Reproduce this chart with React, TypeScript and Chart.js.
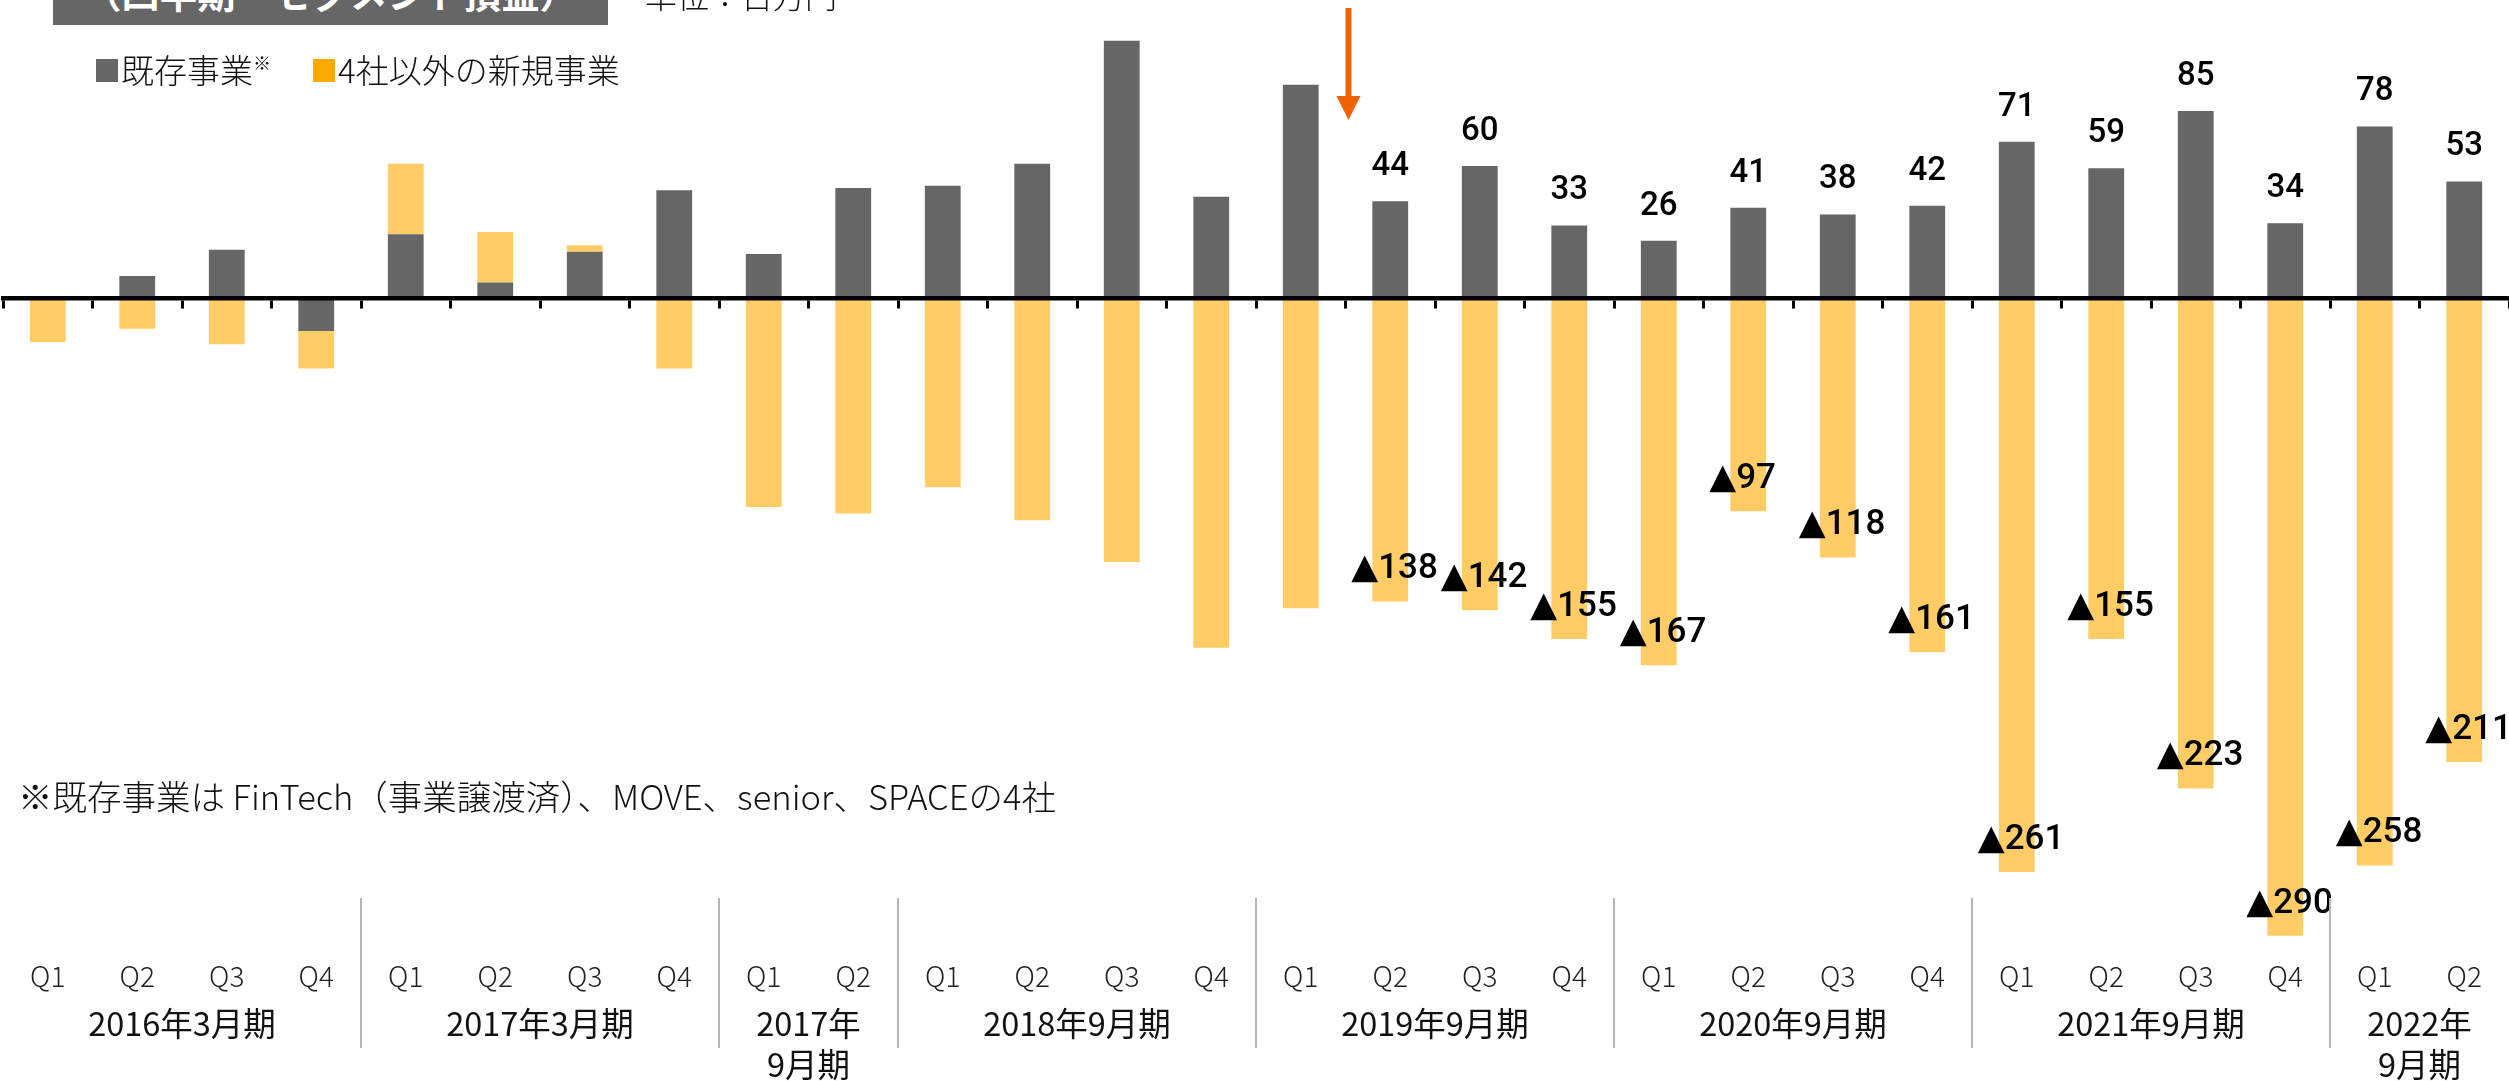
import React, { useEffect, useRef } from 'react';
import { Chart, registerables } from 'chart.js';

Chart.register(...registerables);

// ---- data ----
const quarters = [
  'Q1', 'Q2', 'Q3', 'Q4',
  'Q1', 'Q2', 'Q3', 'Q4',
  'Q1', 'Q2',
  'Q1', 'Q2', 'Q3', 'Q4',
  'Q1', 'Q2', 'Q3', 'Q4',
  'Q1', 'Q2', 'Q3', 'Q4',
  'Q1', 'Q2', 'Q3', 'Q4',
  'Q1', 'Q2',
];
const periodLabels = [
  '2016年3月期', '2017年3月期', '2017年\n9月期', '2018年9月期',
  '2019年9月期', '2020年9月期', '2021年9月期', '2022年\n9月期',
];
const periodSizes = [4, 4, 2, 4, 4, 4, 4, 2];

const existingBiz = [
  0, 10, 22, -15,
  29, 7, 21, 49,
  20, 50,
  51, 61, 117, 46,
  97, 44, 60, 33,
  26, 41, 38, 42,
  71, 59, 85, 34,
  78, 53,
];
const newBiz = [
  -20, -14, -21, -17,
  32, 23, 3, -32,
  -95, -98,
  -86, -101, -120, -159,
  -141, -138, -142, -155,
  -167, -97, -118, -161,
  -261, -155, -223, -290,
  -258, -211,
];
const seriesNames = ['既存事業', '4社以外の新規事業'];
const firstLabeledIndex = 15; // values are printed from 2019年9月期 Q2 onward
const arrowAfterIndex = 14; // arrow between 2019 Q1 and Q2

// ---- styles ----
const GRAY = '#666666';
const ORANGE_BAR = '#FFCC66';
const ORANGE_LEGEND = '#FFAA00';
const ARROW = '#EE6200';
const CJK = '"Noto Sans CJK JP", "Noto Sans", sans-serif';
const NUM = 'Roboto, "DejaVu Sans", sans-serif';

const overlayPlugin = {
  id: 'overlayPlugin',
  afterDraw(chart: any) {
    const ctx: CanvasRenderingContext2D = chart.ctx;
    const xs = chart.scales.x;
    const meta0 = chart.getDatasetMeta(0);
    const meta1 = chart.getDatasetMeta(1);
    ctx.save();

    // value labels
    for (let i = firstLabeledIndex; i < existingBiz.length; i++) {
      const g = meta0.data[i];
      const o = meta1.data[i];
      ctx.fillStyle = '#000';
      ctx.font = `500 33px ${NUM}`;
      ctx.textAlign = 'center';
      ctx.textBaseline = 'alphabetic';
      ctx.fillText(String(existingBiz[i]), g.x, g.y - 26);

      ctx.font = `500 35px ${NUM}`;
      ctx.textAlign = 'left';
      ctx.textBaseline = 'middle';
      ctx.fillText('▲' + Math.abs(newBiz[i]), o.x - 39, o.y - 32);
    }

    // quarter labels
    ctx.fillStyle = '#222';
    ctx.font = `300 28px ${CJK}`;
    ctx.textAlign = 'center';
    ctx.textBaseline = 'middle';
    quarters.forEach((q, i) => {
      ctx.fillText(q, xs.getPixelForValue(i), 976);
    });

    // period labels and separators
    let start = 0;
    periodSizes.forEach((size, gi) => {
      const end = start + size - 1;
      const cx = (xs.getPixelForValue(start) + xs.getPixelForValue(end)) / 2;
      ctx.fillStyle = '#111';
      ctx.font = `400 32.5px ${CJK}`;
      ctx.textAlign = 'center';
      ctx.textBaseline = 'middle';
      periodLabels[gi].split('\n').forEach((line, li) => {
        ctx.fillText(line, cx, 1024 + li * 41);
      });
      if (gi < periodSizes.length - 1) {
        const sx = (xs.getPixelForValue(end) + xs.getPixelForValue(end + 1)) / 2;
        ctx.strokeStyle = '#b5b5b5';
        ctx.lineWidth = 2;
        ctx.beginPath();
        ctx.moveTo(sx, 898);
        ctx.lineTo(sx, 1048);
        ctx.stroke();
      }
      start += size;
    });

    // arrow
    const ax = (xs.getPixelForValue(arrowAfterIndex) + xs.getPixelForValue(arrowAfterIndex + 1)) / 2 + 3;
    ctx.fillStyle = ARROW;
    ctx.fillRect(ax - 3, 8, 6, 90);
    ctx.beginPath();
    ctx.moveTo(ax - 12, 96);
    ctx.lineTo(ax + 12, 96);
    ctx.lineTo(ax, 120);
    ctx.closePath();
    ctx.fill();

    ctx.restore();
  },
};

export default function App() {
  const canvasRef = useRef<HTMLCanvasElement | null>(null);

  useEffect(() => {
    if (!canvasRef.current) return;
    const chart = new Chart(canvasRef.current, {
      type: 'bar',
      data: {
        labels: quarters,
        datasets: [
          {
            label: seriesNames[0],
            data: existingBiz,
            backgroundColor: GRAY,
            barPercentage: 0.4,
            categoryPercentage: 1,
          },
          {
            label: seriesNames[1],
            data: newBiz,
            backgroundColor: ORANGE_BAR,
            barPercentage: 0.4,
            categoryPercentage: 1,
          },
        ],
      },
      options: {
        responsive: false,
        animation: false,
        devicePixelRatio: 1,
        layout: { padding: { left: 3, right: 0, top: 0, bottom: 0 } },
        plugins: { legend: { display: false }, tooltip: { enabled: false } },
        scales: {
          x: {
            stacked: true,
            position: { y: 0 } as any,
            ticks: { display: false },
            grid: {
              display: true,
              drawOnChartArea: false,
              drawTicks: true,
              tickLength: 8,
              color: '#000',
              lineWidth: 3,
              offset: true,
            },
            border: { display: true, color: '#000', width: 4.5, z: 1 },
          },
          y: {
            stacked: true,
            display: false,
            min: -356,
            max: 135.5,
          },
        },
      } as any,
      plugins: [overlayPlugin],
    });
    return () => chart.destroy();
  }, []);

  const legendText: React.CSSProperties = {
    position: 'absolute',
    top: 53,
    fontFamily: CJK,
    fontSize: 33,
    lineHeight: '33px',
    color: '#111',
    fontWeight: 300,
    whiteSpace: 'nowrap',
  };

  return (
    <div
      style={{
        position: 'fixed',
        left: 0,
        top: 0,
        width: 2509,
        height: 1081,
        overflow: 'hidden',
        background: '#fff',
      }}
    >
      <canvas
        ref={canvasRef}
        width={2509}
        height={1081}
        style={{ position: 'absolute', left: 0, top: 0, width: 2509, height: 1081 }}
      />
      {/* title box (cut off at top) */}
      <div
        style={{
          position: 'absolute',
          left: 53,
          top: 0,
          width: 555,
          height: 25,
          background: GRAY,
          overflow: 'hidden',
        }}
      >
        <div
          style={{
            position: 'absolute',
            left: 0,
            width: 555,
            top: -27,
            textAlign: 'center',
            color: '#fff',
            fontFamily: CJK,
            fontWeight: 700,
            fontSize: 38,
            lineHeight: '38px',
            whiteSpace: 'nowrap',
          }}
        >
          （四半期・セグメント損益）
        </div>
      </div>
      <div
        style={{
          position: 'absolute',
          left: 645,
          top: -22,
          fontFamily: CJK,
          fontSize: 32,
          lineHeight: '32px',
          color: '#111',
          fontWeight: 300,
          whiteSpace: 'nowrap',
        }}
      >
        単位：百万円
      </div>
      {/* legend */}
      <div style={{ position: 'absolute', left: 96, top: 59, width: 22, height: 23, background: GRAY }} />
      <div style={{ ...legendText, left: 121 }}>
        {seriesNames[0]}
        <span style={{ fontSize: 18, verticalAlign: 'top', lineHeight: '18px' }}>※</span>
      </div>
      <div style={{ position: 'absolute', left: 313, top: 59, width: 22, height: 23, background: ORANGE_LEGEND }} />
      <div style={{ ...legendText, left: 338 }}>{seriesNames[1]}</div>
      {/* footnote */}
      <div
        style={{
          position: 'absolute',
          left: 18,
          top: 778,
          fontFamily: CJK,
          fontSize: 34.5,
          lineHeight: '34px',
          color: '#111',
          fontWeight: 300,
          whiteSpace: 'nowrap',
        }}
      >
        ※既存事業は FinTech（事業譲渡済）、MOVE、senior、SPACEの4社
      </div>
    </div>
  );
}
